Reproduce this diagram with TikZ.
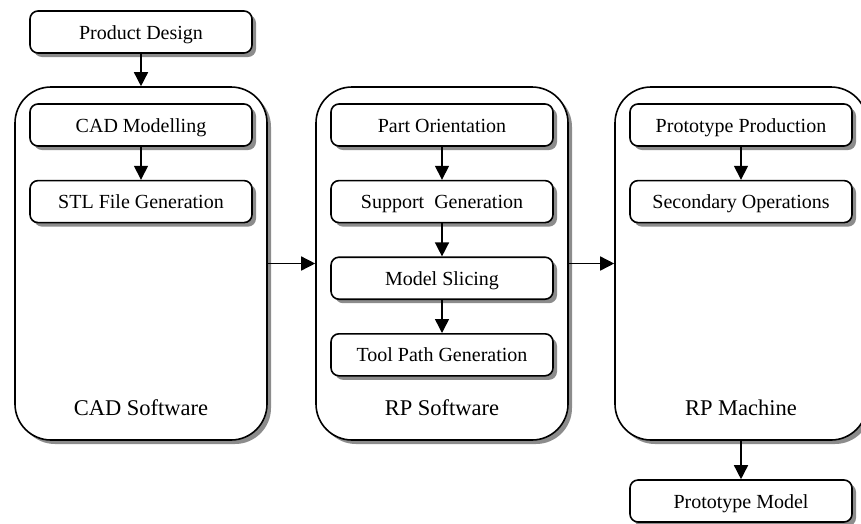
\documentclass[tikz,border=0pt]{standalone}
\usepackage{fontspec}
\setmainfont{Liberation Serif}
\usetikzlibrary{arrows.meta, positioning, shadows}

\begin{document}
\begin{tikzpicture}[x=1pt, y=-1pt, node distance=33pt,
  font=\fontsize{20}{24}\selectfont,
  stage/.style={rectangle, rounded corners=8pt, draw, line width=1.6pt,
    fill=white, minimum width=222pt, minimum height=42pt, inner sep=0pt,
    text height=16pt, text depth=2pt,
    drop shadow={shadow xshift=4pt, shadow yshift=-4pt, fill=black!45, opacity=1}},
  group/.style={rectangle, rounded corners=36pt, draw, line width=1.6pt,
    fill=white, minimum width=252pt, minimum height=353pt, inner sep=0pt,
    drop shadow={shadow xshift=4pt, shadow yshift=-4pt, fill=black!45, opacity=1}},
  tag/.style={font=\fontsize{22.5}{27}\selectfont, anchor=base},
  flow/.style={-{Triangle[length=14pt, width=14pt]}, line width=1.5pt}]
  \useasboundingbox (0,0) rectangle (861,523);
  % the three stages
  \node[group] (cadsw) at (141,263.5) {};
  \node[group] (rpsw) at (442,263.5) {};
  \node[group] (rpm) at (741,263.5) {};
  \node[tag] (cadtag) at ([yshift=25pt] cadsw.south) {CAD Software};
  \node[tag] (rptag) at ([yshift=25pt] rpsw.south) {RP Software};
  \node[tag] (rpmtag) at ([yshift=25pt] rpm.south) {RP Machine};
  % steps
  \node[stage] (design) at (141,32) {Product Design};
  \node[stage] (cadmod) at (141,125) {CAD Modelling};
  \node[stage, below=of cadmod] (stl) {STL File Generation};
  \node[stage] (orient) at (442,125) {Part Orientation};
  \node[stage, below=of orient] (support) {Support\ \ Generation};
  \node[stage, below=of support] (slice) {Model Slicing};
  \node[stage, below=of slice] (toolpath) {Tool Path Generation};
  \node[stage] (proto) at (741,125) {Prototype Production};
  \node[stage, below=of proto] (secop) {Secondary Operations};
  \node[stage] (model) at (741,501) {Prototype Model};
  % arrows
  \draw[flow] (design) -- (cadsw);
  \draw[flow] (cadmod) -- (stl);
  \draw[flow] (cadsw) -- (rpsw);
  \draw[flow] (orient) -- (support);
  \draw[flow] (support) -- (slice);
  \draw[flow] (slice) -- (toolpath);
  \draw[flow] (rpsw) -- (rpm);
  \draw[flow] (proto) -- (secop);
  \draw[flow] (rpm) -- (model);
\end{tikzpicture}
\end{document}
